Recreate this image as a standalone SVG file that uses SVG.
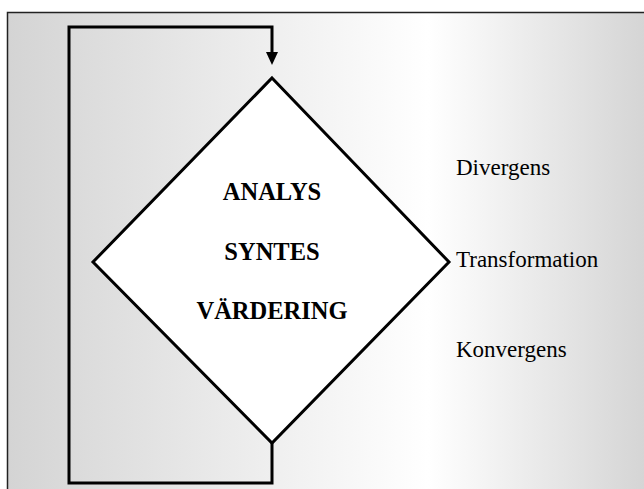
<svg xmlns="http://www.w3.org/2000/svg" width="644" height="489" viewBox="0 0 644 489">
<defs>
<linearGradient id="bg" x1="8" y1="0" x2="644" y2="0" gradientUnits="userSpaceOnUse">
<stop offset="0" stop-color="#d4d4d4"/>
<stop offset="0.66" stop-color="#ffffff"/>
<stop offset="1" stop-color="#d5d5d5"/>
</linearGradient>
<marker id="ah" markerWidth="12" markerHeight="14" refX="6" refY="13" orient="auto-start-reverse" markerUnits="userSpaceOnUse" viewBox="0 0 12 14">
<path d="M0,0 L12,0 L6,13 Z" fill="#000"/>
</marker>
</defs>
<style>
.line{fill:none;stroke:#000;stroke-width:3;stroke-linejoin:miter}
.center{font-family:"Liberation Serif","Times New Roman",serif;font-weight:bold;font-size:24.5px;text-anchor:middle;fill:#000}
.side{font-family:"Liberation Serif","Times New Roman",serif;font-size:23px;fill:#000}
</style>
<rect x="0" y="0" width="644" height="489" fill="#fff"/>
<rect x="8" y="12" width="636" height="477" fill="url(#bg)"/>
<path d="M7.5,489 V12.5 H644" fill="none" stroke="#222" stroke-width="1.5"/>
<g id="connectors">
<path class="line" d="M272,443 V483 H69 V27 H272 V52"/>
<path d="M266,52 L278,52 L272,65 Z" fill="#000"/>
</g>
<g id="diamond">
<polygon points="272,78 449,262 272,443 93,262" fill="#fff" stroke="#000" stroke-width="3"/>
<text class="center" x="272" y="200">ANALYS</text>
<text class="center" x="272" y="260">SYNTES</text>
<text class="center" x="272" y="319">VÄRDERING</text>
</g>
<g id="labels">
<text class="side" x="456" y="175">Divergens</text>
<text class="side" x="456" y="267">Transformation</text>
<text class="side" x="456" y="357">Konvergens</text>
</g>
</svg>
